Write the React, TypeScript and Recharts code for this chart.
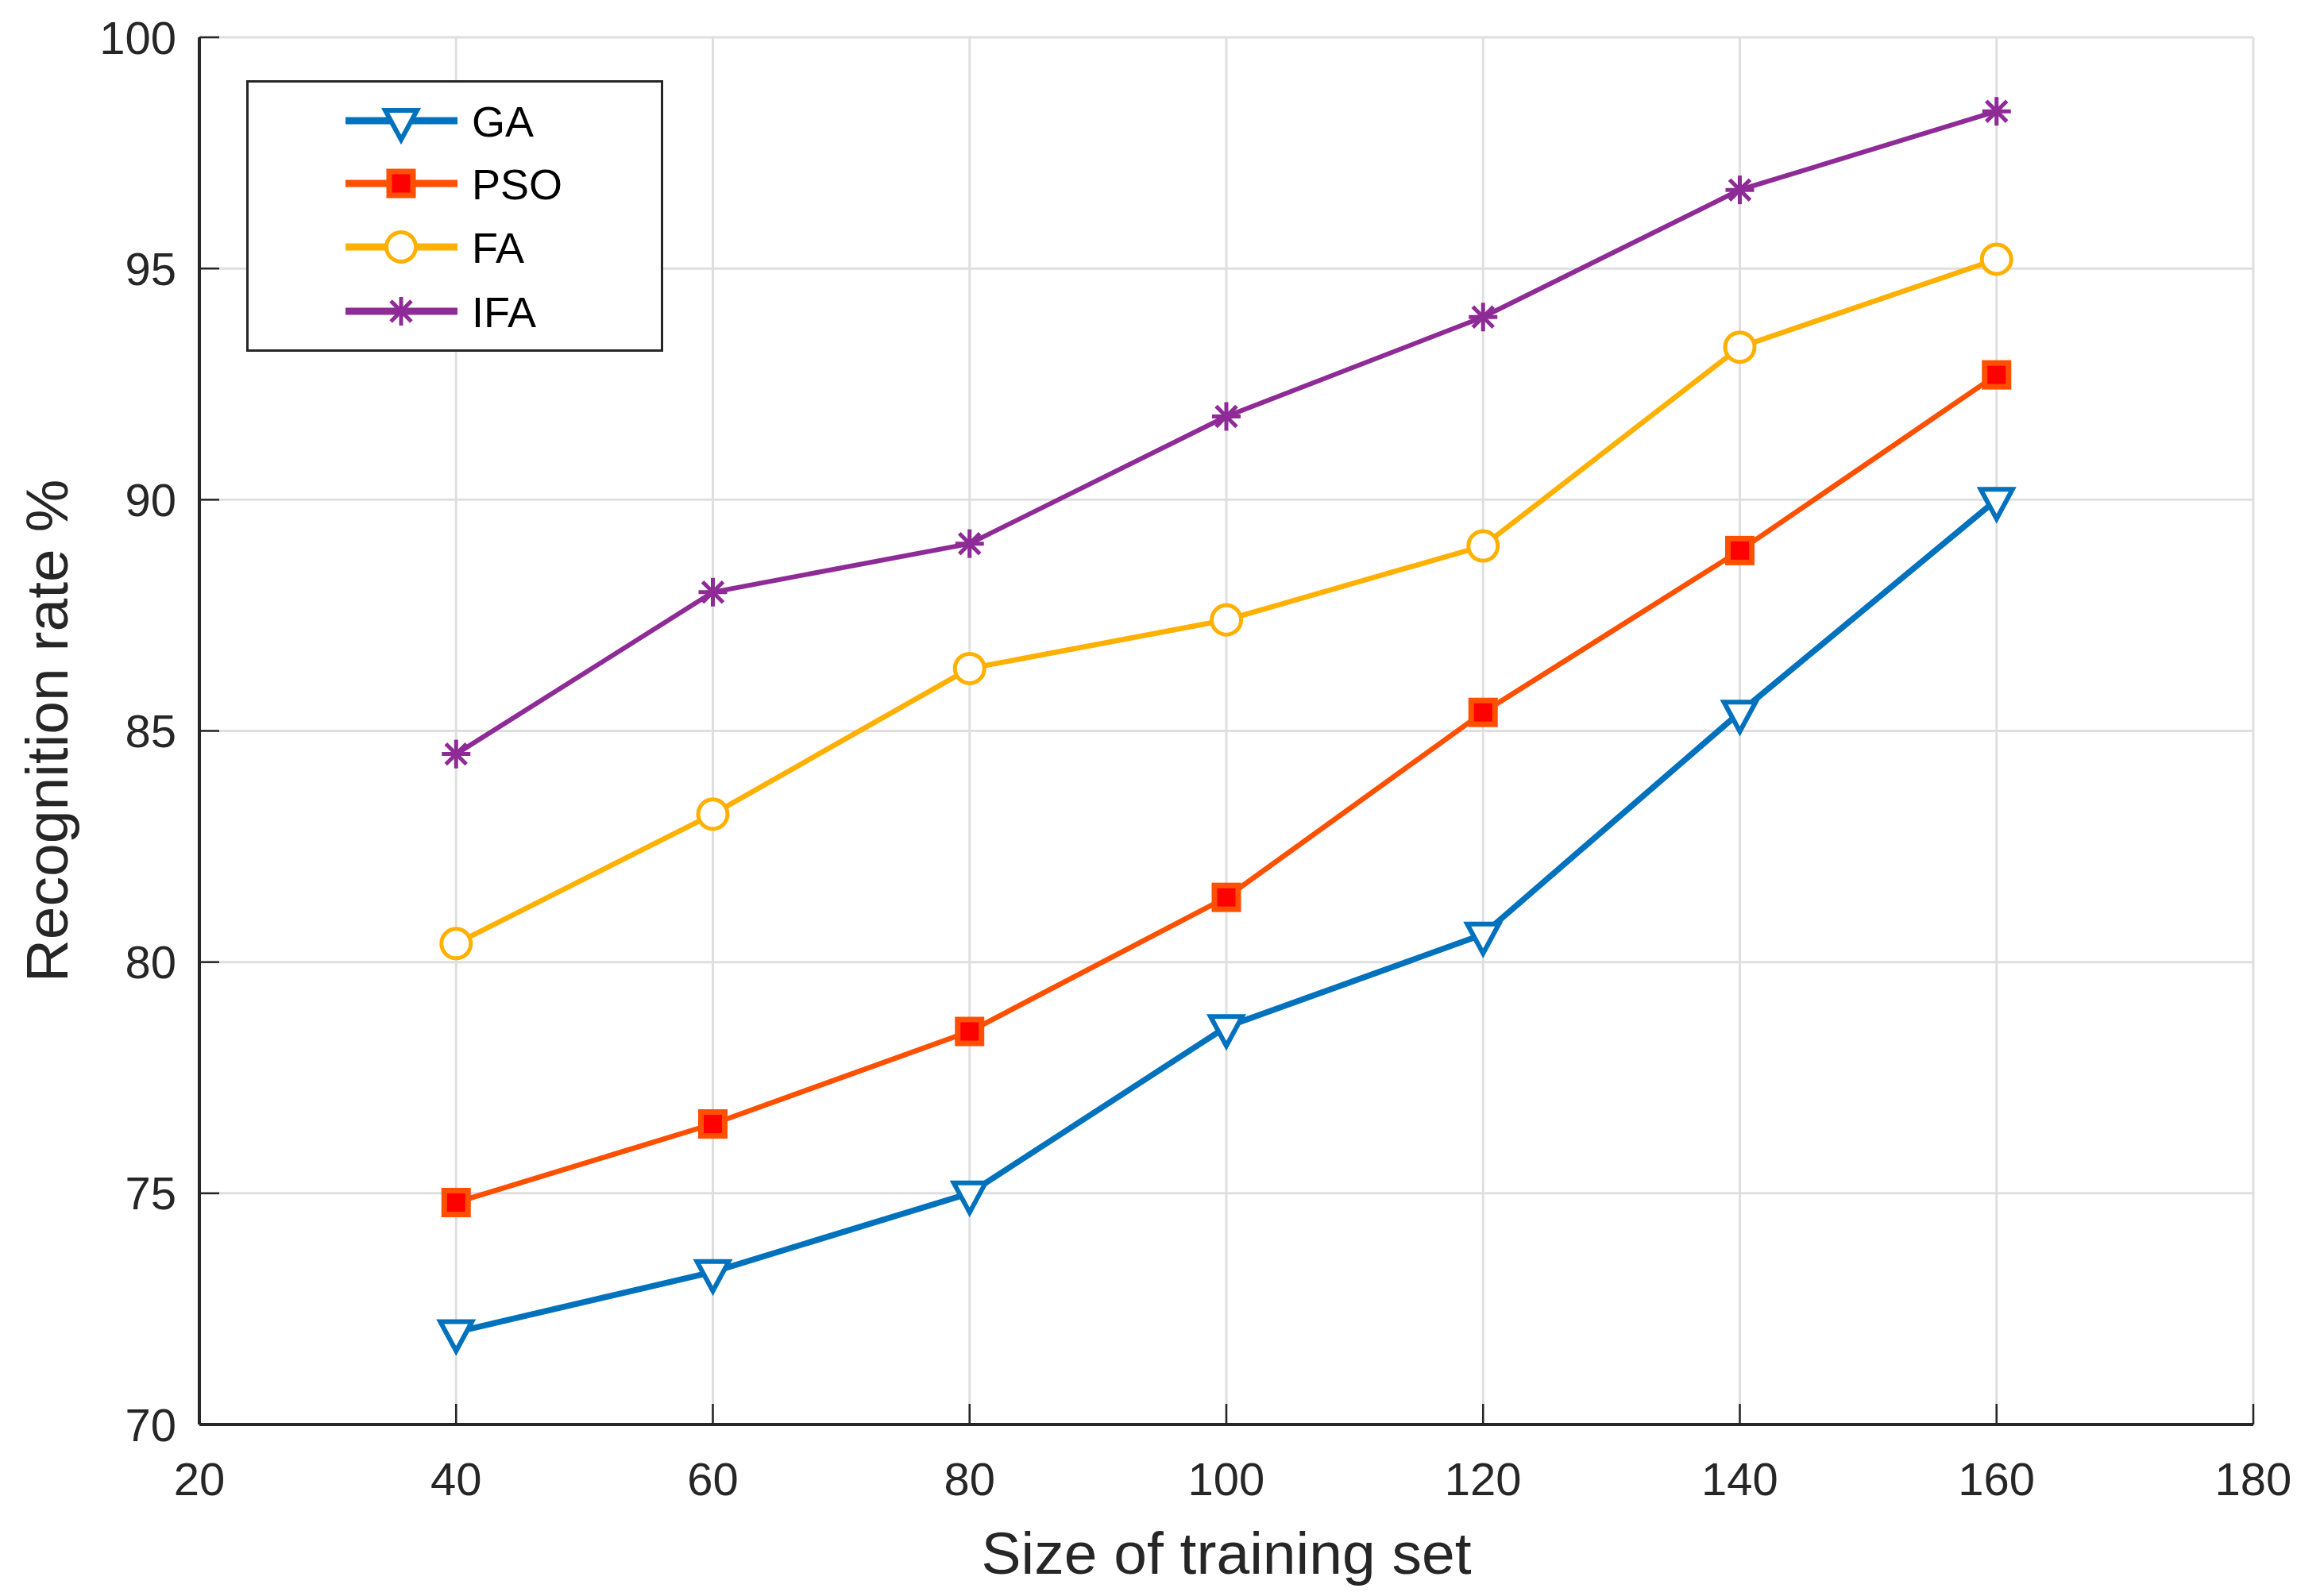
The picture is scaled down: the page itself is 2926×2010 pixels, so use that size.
import React from 'react';
import { LineChart, Line, XAxis, YAxis, CartesianGrid, Legend, Label } from 'recharts';

const trainingSizes = [40, 60, 80, 100, 120, 140, 160];
const gaRates = [72.0, 73.3, 75.0, 78.6, 80.6, 85.4, 90.0];
const psoRates = [74.8, 76.5, 78.5, 81.4, 85.4, 88.9, 92.7];
const faRates = [80.4, 83.2, 86.35, 87.4, 89.0, 93.3, 95.2];
const ifaRates = [84.5, 88.0, 89.05, 91.8, 93.95, 96.7, 98.4];
const xTicks = [20, 40, 60, 80, 100, 120, 140, 160, 180];
const yTicks = [70, 75, 80, 85, 90, 95, 100];
const seriesNames = ['GA', 'PSO', 'FA', 'IFA'];

const data = trainingSizes.map((x, i) => ({
  x,
  GA: gaRates[i],
  PSO: psoRates[i],
  FA: faRates[i],
  IFA: ifaRates[i],
}));

type Kind = 'triangle' | 'square' | 'circle' | 'asterisk';
interface SeriesStyle {
  color: string;
  fill: string;
  width: number;
  kind: Kind;
}

const STYLES: Record<string, SeriesStyle> = {
  GA: { color: '#0072BD', fill: '#FFFFFF', width: 7.5, kind: 'triangle' },
  PSO: { color: '#FF5000', fill: '#FF0000', width: 6.5, kind: 'square' },
  FA: { color: '#FFB000', fill: '#FFFFFF', width: 6.5, kind: 'circle' },
  IFA: { color: '#8E2B96', fill: '#8E2B96', width: 6, kind: 'asterisk' },
};

const FONT = '"Liberation Sans", Arial, Helvetica, sans-serif';
const AXIS_COLOR = '#262626';

function Marker({ kind, cx, cy, color, fill }: { kind: Kind; cx: number; cy: number; color: string; fill: string }) {
  if (cx == null || cy == null) return null;
  switch (kind) {
    case 'triangle':
      return (
        <path
          d={`M${cx - 20},${cy - 13} L${cx + 20},${cy - 13} L${cx},${cy + 24} Z`}
          fill={fill}
          stroke={color}
          strokeWidth={6}
          strokeLinejoin="miter"
        />
      );
    case 'square':
      return <rect x={cx - 15} y={cy - 15} width={30} height={30} fill={fill} stroke={color} strokeWidth={7} />;
    case 'circle':
      return <circle cx={cx} cy={cy} r={18.5} fill={fill} stroke={color} strokeWidth={5} />;
    case 'asterisk': {
      const r = 18;
      const d = r * 0.72;
      return (
        <g stroke={color} strokeWidth={5} strokeLinecap="butt">
          <line x1={cx - r} y1={cy} x2={cx + r} y2={cy} />
          <line x1={cx} y1={cy - r} x2={cx} y2={cy + r} />
          <line x1={cx - d} y1={cy - d} x2={cx + d} y2={cy + d} />
          <line x1={cx - d} y1={cy + d} x2={cx + d} y2={cy - d} />
        </g>
      );
    }
    default:
      return null;
  }
}

function makeDot(name: string) {
  const s = STYLES[name];
  return (props: any) => (
    <Marker key={`${name}-${props.index}`} kind={s.kind} cx={props.cx} cy={props.cy} color={s.color} fill={s.fill} />
  );
}

const LEGEND_W = 525;
const LEGEND_H = 342;

function LegendBox(props: any) {
  const raw: any[] = props.payload && props.payload.length ? props.payload : seriesNames.map((n) => ({ value: n }));
  const payload = [...raw].sort(
    (a, b) => seriesNames.indexOf(String(a.value)) - seriesNames.indexOf(String(b.value))
  );
  const rowYs = [51, 130, 210, 291];
  return (
    <svg width={LEGEND_W} height={LEGEND_H} style={{ display: 'block', fontFamily: FONT }}>
      <rect x={1.5} y={1.5} width={LEGEND_W - 3} height={LEGEND_H - 3} fill="#FFFFFF" stroke={AXIS_COLOR} strokeWidth={3} />
      {payload.map((entry, i) => {
        const name = String(entry.value);
        const s = STYLES[name];
        if (!s) return null;
        const y = rowYs[i];
        return (
          <g key={name}>
            <line x1={125} y1={y} x2={266} y2={y} stroke={s.color} strokeWidth={9} />
            <Marker kind={s.kind} cx={195} cy={y} color={s.color} fill={s.fill} />
            <text x={284} y={y + 20} fontSize={54} fill="#000000">
              {name}
            </text>
          </g>
        );
      })}
    </svg>
  );
}

export default function App() {
  return (
    <div style={{ position: 'absolute', left: 0, top: 0, width: 2926, height: 2010, background: '#FFFFFF', fontFamily: FONT }}>
      <LineChart width={2926} height={2010} data={data} margin={{ top: 47, right: 89, left: 0, bottom: 28 }}>
        <CartesianGrid stroke="#DFDFDF" strokeWidth={3} />
        <XAxis
          type="number"
          dataKey="x"
          domain={[20, 180]}
          ticks={xTicks}
          interval={0}
          height={188}
          tickSize={-26}
          tickMargin={74}
          tick={{ fontSize: 58, fill: AXIS_COLOR }}
          axisLine={{ stroke: AXIS_COLOR, strokeWidth: 4 }}
          tickLine={{ stroke: AXIS_COLOR, strokeWidth: 2.5 }}
        >
          <Label value="Size of training set" position="insideBottom" offset={0} style={{ fontSize: 75, fill: AXIS_COLOR }} />
        </XAxis>
        <YAxis
          type="number"
          domain={[70, 100]}
          ticks={yTicks}
          interval={0}
          width={251}
          tickSize={-25}
          tickMargin={54}
          tick={{ fontSize: 58, fill: AXIS_COLOR }}
          axisLine={{ stroke: AXIS_COLOR, strokeWidth: 4 }}
          tickLine={{ stroke: AXIS_COLOR, strokeWidth: 2.5 }}
        >
          <Label
            value="Recognition rate %"
            angle={-90}
            position="insideLeft"
            offset={58}
            style={{ fontSize: 75, fill: AXIS_COLOR, textAnchor: 'middle' }}
          />
        </YAxis>
        <Legend
          layout="vertical"
          verticalAlign="middle"
          align="center"
          itemSorter={null as any}
          content={LegendBox}
          wrapperStyle={{ left: 310, top: 101, width: LEGEND_W, height: LEGEND_H }}
        />
        {seriesNames.map((name) => (
          <Line
            key={name}
            type="linear"
            dataKey={name}
            name={name}
            stroke={STYLES[name].color}
            strokeWidth={STYLES[name].width}
            dot={makeDot(name)}
            activeDot={false}
            isAnimationActive={false}
          />
        ))}
      </LineChart>
    </div>
  );
}
